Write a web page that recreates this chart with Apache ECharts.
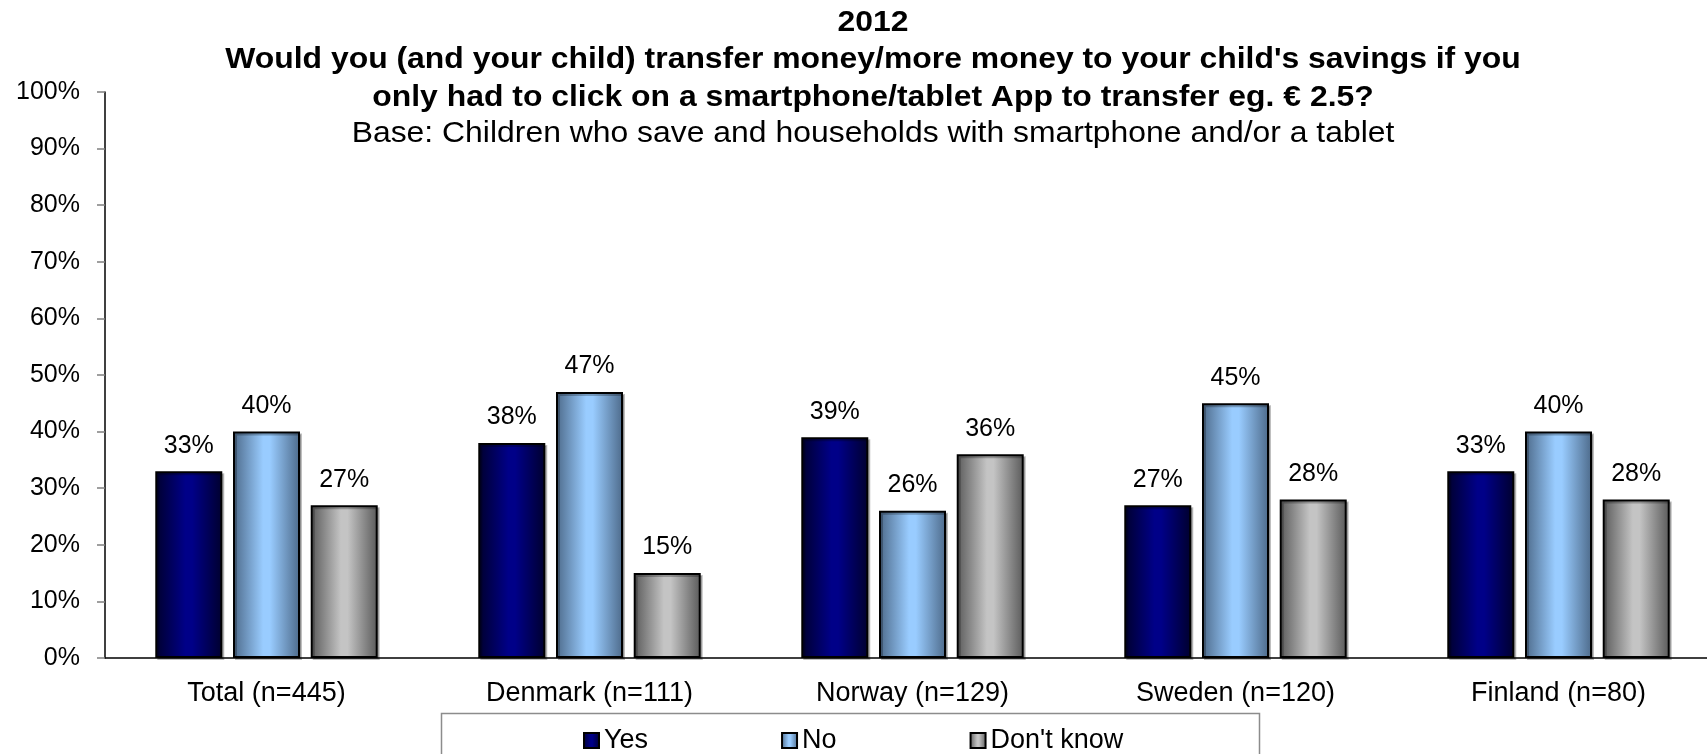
<!DOCTYPE html>
<html>
<head>
<meta charset="utf-8">
<script src="https://cdn.jsdelivr.net/npm/echarts@6/dist/echarts.min.js"></script>
<style>
  html, body { margin: 0; padding: 0; background: #fff; }
  #chart { width: 1707px; height: 754px; }
</style>
</head>
<body>
<div id="chart"></div>
<script>
// Survey answers (percent) per country group
const categories = ['Total (n=445)', 'Denmark (n=111)', 'Norway (n=129)', 'Sweden (n=120)', 'Finland (n=80)'];
const yesValues = [33, 38, 39, 27, 33];
const noValues = [40, 47, 26, 45, 40];
const dontKnowValues = [27, 15, 36, 28, 28];
const seriesNames = ['Yes', 'No', "Don't know"];
const titleYear = '2012';
const titleLines = [
  "Would you (and your child) transfer money/more money to your child's savings if you",
  'only had to click on a smartphone/tablet App to transfer eg. € 2.5?'
];
const baseLine = 'Base: Children who save and households with smartphone and/or a tablet';

const FONT = "'Liberation Sans', Arial, sans-serif";

// Cylinder-like horizontal gradient for each bar
function barGradient(edge, mid) {
  return new echarts.graphic.LinearGradient(0, 0, 1, 0, [
    { offset: 0, color: edge },
    { offset: 0.45, color: mid },
    { offset: 0.55, color: mid },
    { offset: 1, color: edge }
  ]);
}

const fills = [
  barGradient('#00002e', '#000088'),
  barGradient('#4d6a8a', '#99ccff'),
  barGradient('#5a5a5a', '#c4c4c4')
];

function makeSeries(name, data, fill) {
  return {
    name: name,
    type: 'bar',
    data: data,
    barWidth: 67,
    barGap: '16%',
    itemStyle: {
      color: fill,
      borderColor: '#000',
      borderWidth: 2,
      shadowColor: 'rgba(0,0,0,0.25)',
      shadowOffsetX: 2,
      shadowOffsetY: 2
    },
    label: {
      show: true,
      position: 'top',
      distance: 13,
      formatter: '{c}%',
      fontFamily: FONT,
      fontSize: 25,
      color: '#000'
    },
    emphasis: { disabled: true }
  };
}

// Centered heading line, slightly widened like the original typeface
function headingLine(text, y, bold) {
  return {
    type: 'text',
    x: 873,
    y: y,
    scaleX: 1.1,
    style: {
      text: text,
      font: (bold ? 'bold ' : '') + '29px ' + FONT,
      fill: '#000',
      textAlign: 'center',
      textVerticalAlign: 'middle'
    }
  };
}

const chart = echarts.init(document.getElementById('chart'), null, { renderer: 'canvas' });

chart.setOption({
  backgroundColor: '#fff',
  animation: false,
  graphic: [
    headingLine(titleYear, 23, true),
    headingLine(titleLines[0], 60, true),
    headingLine(titleLines[1], 98, true),
    headingLine(baseLine, 134, false),
    // legend frame
    { type: 'rect', shape: { x: 441.5, y: 713.5, width: 818, height: 80 }, style: { fill: 'none', stroke: '#8c8c8c', lineWidth: 1.5 }, z: 0 }
  ],
  legend: {
    data: seriesNames,
    left: 578,
    top: 722,
    itemGap: 133,
    itemWidth: 15,
    itemHeight: 15,
    icon: 'rect',
    textStyle: { fontFamily: FONT, fontSize: 27, color: '#000' },
    selectedMode: false
  },
  // plot area runs slightly past the right edge of the canvas
  grid: { left: 105, width: 1615, top: 92, bottom: 96, containLabel: false, outerBoundsMode: 'none' },
  xAxis: {
    type: 'category',
    data: categories,
    axisLine: { lineStyle: { color: '#000', width: 1.5 } },
    axisTick: { show: false },
    axisLabel: { fontFamily: FONT, fontSize: 27, color: '#000', margin: 22 }
  },
  yAxis: {
    type: 'value',
    min: 0,
    max: 100,
    interval: 10,
    axisLine: { show: true, lineStyle: { color: '#000', width: 1.5 } },
    axisTick: { show: true, length: 8, lineStyle: { color: '#808080', width: 1.5 } },
    splitLine: { show: false },
    axisLabel: { formatter: '{value}%', fontFamily: FONT, fontSize: 25, color: '#000', margin: 25 }
  },
  series: [
    makeSeries(seriesNames[0], yesValues, fills[0]),
    makeSeries(seriesNames[1], noValues, fills[1]),
    makeSeries(seriesNames[2], dontKnowValues, fills[2])
  ]
});
</script>
</body>
</html>
